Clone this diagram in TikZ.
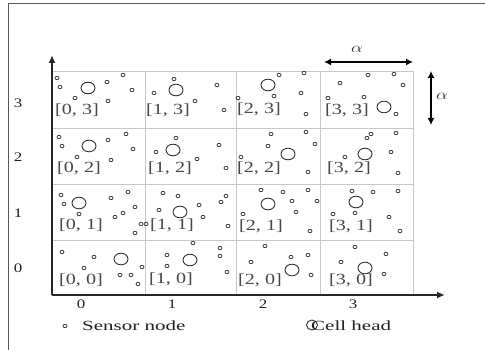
\documentclass[tikz,border=0pt]{standalone}
\usepackage{fontspec}
\setmainfont{Liberation Serif}
\usetikzlibrary{arrows.meta}
\newcommand{\wtxt}[2]{\scalebox{#1}[1]{#2}}
\tikzset{
  grid line/.style={draw=black!22, line width=0.9pt},
  axis/.style={draw=black!85, line width=1.6pt, -{Latex[length=8pt,width=7pt]}},
  dim/.style={draw=black, line width=1.3pt, {Latex[length=7pt,width=7pt]}-{Latex[length=7pt,width=7pt]}},
  frame/.style={draw=black!65, line width=1pt},
  sensor/.style={draw=black!75, line width=0.8pt},
  head/.style={draw=black!80, line width=0.9pt},
  cell label/.style={anchor=west, inner sep=0pt, text=black!72, font=\fontsize{15.5}{16}\selectfont},
  tick label/.style={inner sep=0pt, text=black!88, font=\fontsize{13}{13}\selectfont},
  legend text/.style={anchor=west, inner sep=0pt, text=black!88, font=\fontsize{14}{14}\selectfont},
  alpha label/.style={inner sep=0pt, text=black!80, font=\fontsize{15}{15}\selectfont},
}
\begin{document}
\begin{tikzpicture}[x=1pt,y=-1pt]
\useasboundingbox (0,0) rectangle (485,350);
% frame
\coordinate (ftl) at (8,4);
\coordinate (ftr) at (485,4);
\coordinate (fbl) at (8,350);
\draw[frame] (ftr) -- (ftl) -- (fbl);
% grid
\foreach \x in {145,236,320,413} \draw[grid line] (\x,71) -- (\x,295);
\foreach \y in {71,128,184,240} \draw[grid line] (52,\y) -- (413,\y);
% axes
\coordinate (o) at (52,295);
\coordinate (ytip) at (52,55);
\coordinate (xtip) at (445,295);
\draw[axis] (o) -- (ytip);
\draw[axis] (o) -- (xtip);
% dimension arrows
\coordinate (ha) at (324,62);
\coordinate (hb) at (413,62);
\draw[dim] (ha) -- (hb);
\node[alpha label] (alh) at (357,49) {\wtxt{1.3}{$\alpha$}};
\coordinate (va) at (431,71);
\coordinate (vb) at (431,125);
\draw[dim] (va) -- (vb);
\node[alpha label] (alv) at (442,96) {\wtxt{1.3}{$\alpha$}};
% row/column labels
\node[tick label] (r3) at (18,103) {\wtxt{1.3}{3}};
\node[tick label] (r2) at (18,157) {\wtxt{1.3}{2}};
\node[tick label] (r1) at (18,213) {\wtxt{1.3}{1}};
\node[tick label] (r0) at (18,268) {\wtxt{1.3}{0}};
\node[tick label] (c0) at (81,304) {\wtxt{1.3}{0}};
\node[tick label] (c1) at (172,304) {\wtxt{1.3}{1}};
\node[tick label] (c2) at (263,304) {\wtxt{1.3}{2}};
\node[tick label] (c3) at (353,304) {\wtxt{1.3}{3}};
% cell labels
\node[cell label] (l03) at (55,110) {\wtxt{1.3}{[0, 3]}};
\node[cell label] (l13) at (146,110) {\wtxt{1.3}{[1, 3]}};
\node[cell label] (l23) at (237,109) {\wtxt{1.3}{[2, 3]}};
\node[cell label] (l33) at (325,110) {\wtxt{1.3}{[3, 3]}};
\node[cell label] (l02) at (57,168) {\wtxt{1.3}{[0, 2]}};
\node[cell label] (l12) at (148,168) {\wtxt{1.3}{[1, 2]}};
\node[cell label] (l22) at (237,168) {\wtxt{1.3}{[2, 2]}};
\node[cell label] (l32) at (327,168) {\wtxt{1.3}{[3, 2]}};
\node[cell label] (l01) at (59,225) {\wtxt{1.3}{[0, 1]}};
\node[cell label] (l11) at (150,225) {\wtxt{1.3}{[1, 1]}};
\node[cell label] (l21) at (239,226) {\wtxt{1.3}{[2, 1]}};
\node[cell label] (l31) at (329,226) {\wtxt{1.3}{[3, 1]}};
\node[cell label] (l00) at (59,280) {\wtxt{1.3}{[0, 0]}};
\node[cell label] (l10) at (149,279) {\wtxt{1.3}{[1, 0]}};
\node[cell label] (l20) at (238,280) {\wtxt{1.3}{[2, 0]}};
\node[cell label] (l30) at (329,280) {\wtxt{1.3}{[3, 0]}};
% sensor nodes
\foreach \p in {
  (57,78),(60,87),(107,82),(123,75),(132,90),(75,98),(108,101),
  (174,79),(154,93),(217,85),(195,101),(224,110),
  (238,98),(279,75),(304,73),(274,96),(301,93),(306,114),
  (340,83),(368,75),(394,74),(403,85),(328,98),(364,97),(396,114),
  (59,137),(62,146),(108,140),(126,134),(133,149),(77,157),(111,160),
  (176,138),(156,152),(219,145),(197,159),(226,168),
  (271,134),(306,132),(315,144),(268,146),(241,157),(308,172),
  (371,134),(367,138),(396,133),(345,157),(391,152),(398,173),
  (61,195),(64,204),(79,214),(111,198),(128,192),(135,207),(123,213),(115,217),(141,224),(135,233),
  (163,193),(178,196),(226,196),(221,202),(199,205),(159,210),(203,217),(146,224),(228,226),
  (261,190),(283,192),(308,190),(317,201),(292,201),(296,212),(243,214),(310,231),
  (352,191),(373,192),(398,191),(333,214),(355,213),(389,217),(400,231),
  (62,252),(94,257),(84,268),(142,267),(120,275),(131,275),(138,284),
  (193,243),(167,255),(167,266),(220,248),(220,256),(227,272),
  (265,246),(251,262),(291,257),(308,255),(311,275),
  (355,247),(386,254),(341,262),(384,274)}
  \draw[sensor] \p ellipse[x radius=2pt, y radius=1.7pt];
% cell heads
\foreach \p in {(88,88),(176,90),(268,85),(384,107),
  (89,146),(173,150),(288,154),(365,154),
  (79,203),(180,212),(268,204),(356,202),
  (121,259),(190,260),(292,270),(365,268)}
  \draw[head] \p ellipse[x radius=7pt, y radius=5.8pt];
% legend
\draw[sensor] (65,326) ellipse[x radius=2pt, y radius=1.7pt];
\node[legend text] (lsn) at (82,326) {\wtxt{1.5}{Sensor node}};
\draw[head] (312,325) ellipse[x radius=5.5pt, y radius=5pt];
\node[legend text] (lch) at (311,326) {\wtxt{1.5}{Cell head}};
\end{tikzpicture}
\end{document}
